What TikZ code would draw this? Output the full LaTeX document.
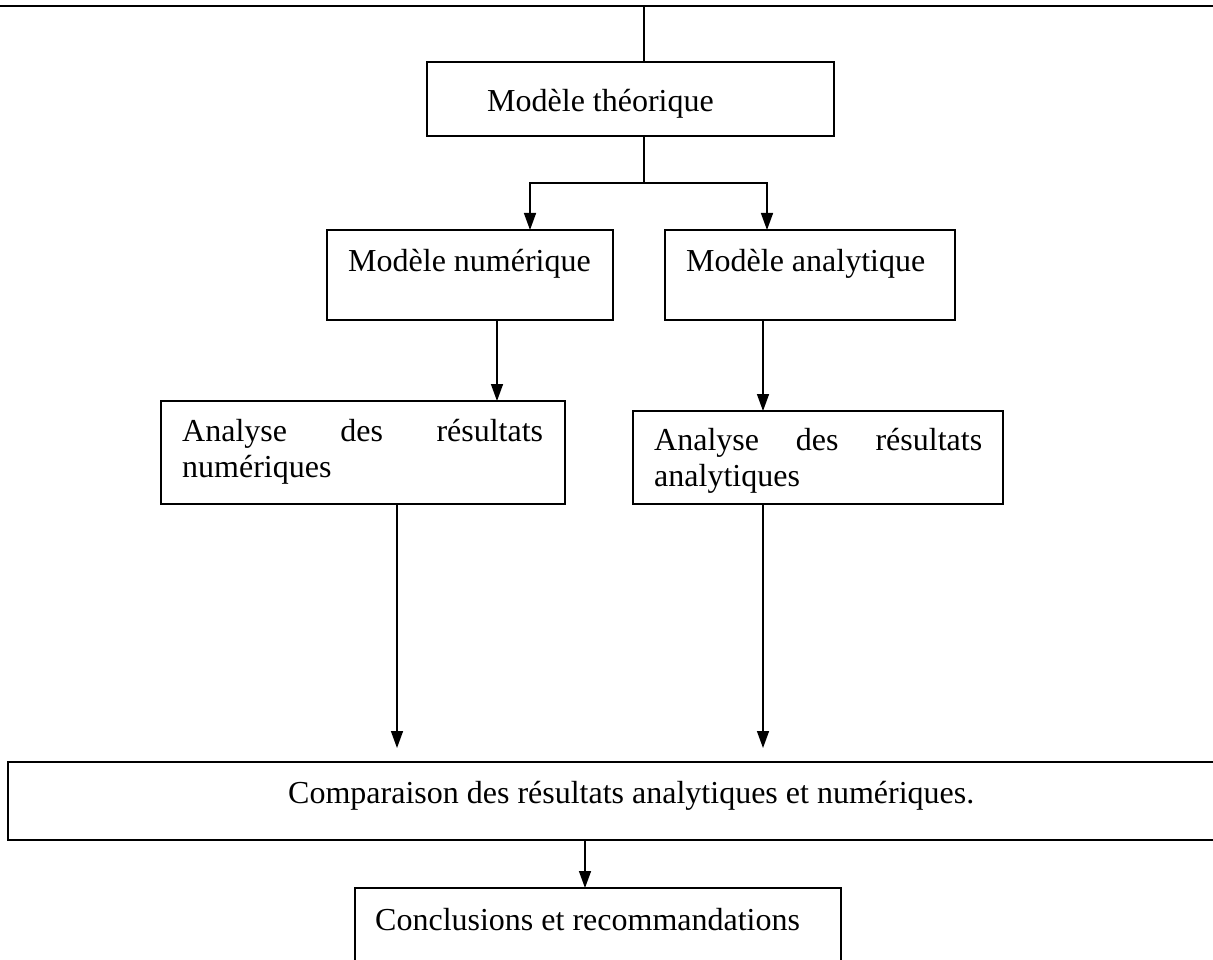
\documentclass[tikz,border=0pt]{standalone}
\usepackage{fontspec}
\setmainfont{Liberation Serif}
\usetikzlibrary{arrows.meta}
\begin{document}
\begin{tikzpicture}[x=1pt,y=-1pt,
  box/.style={draw, line width=1.8pt, rectangle, inner sep=0pt, outer sep=0pt},
  lbl/.style={anchor=base west, inner sep=0pt, font=\fontsize{32}{36}\selectfont},
  conn/.style={line width=1.5pt},
  arr/.style={conn, -{Triangle[length=17pt,width=12pt]}},
]
\clip (0,0) rectangle (1213,960);

% boxes
\node[box, minimum width=407pt, minimum height=74pt]  (theo)   at (630.5,99)  {};
\node[box, minimum width=286pt, minimum height=90pt]  (num)    at (470,275)   {};
\node[box, minimum width=290pt, minimum height=90pt]  (ana)    at (810,275)   {};
\node[box, minimum width=404pt, minimum height=103pt] (resnum) at (363,452.5) {};
\node[box, minimum width=370pt, minimum height=93pt]  (resana) at (818,457.5) {};
\node[box, minimum width=1232pt, minimum height=78pt] (comp)   at (624,801)   {};
\node[box, minimum width=486pt, minimum height=102pt] (concl)  at (598,939)   {};

% texts
\node[lbl] (theo-t)   at (487,112) {Modèle théorique};
\node[lbl] (num-t)    at (348,272) {Modèle numérique};
\node[lbl] (ana-t)    at (686,272) {Modèle analytique};
\node[lbl] (resnum-t) at (182,441) {\parbox[t]{361pt}{Analyse\hfill des\hfill résultats\\numériques}};
\node[lbl] (resana-t) at (654,450) {\parbox[t]{328pt}{Analyse\hfill des\hfill résultats\\analytiques}};
\node[lbl] (comp-t)   at (288,803) {Comparaison des résultats analytiques et numériques.};
\node[lbl] (concl-t)  at (375,930) {Conclusions et recommandations};

% rule along the top and feed into the first box
\coordinate (topL) at (0,6);
\coordinate (topR) at (1213,6);
\draw[line width=2.5pt] (topL) -- (topR);
\coordinate (feed) at (644,6);
\draw[conn] (feed) -- (feed |- theo.north);

% split towards both models
\coordinate (split) at (644,183);
\draw[conn] (split |- theo.south) -- (split);
\draw[arr] (split) -| ([xshift=60pt]num.north);
\draw[arr] (split) -| ([xshift=-43pt]ana.north);

% models to their analyses
\draw[arr] ([xshift=27pt]num.south) -- ([xshift=27pt]num.south |- resnum.north);
\draw[arr] ([xshift=-47pt]ana.south) -- ([xshift=-47pt]ana.south |- resana.north);

% analyses down to the comparison
\coordinate (tips) at (0,748);
\draw[arr] ([xshift=34pt]resnum.south) -- ([xshift=34pt]resnum.south |- tips);
\draw[arr] ([xshift=-55pt]resana.south) -- ([xshift=-55pt]resana.south |- tips);

% comparison to conclusions
\draw[arr] ([xshift=-39pt]comp.south) -- ([xshift=-39pt]comp.south |- concl.north);
\end{tikzpicture}
\end{document}
